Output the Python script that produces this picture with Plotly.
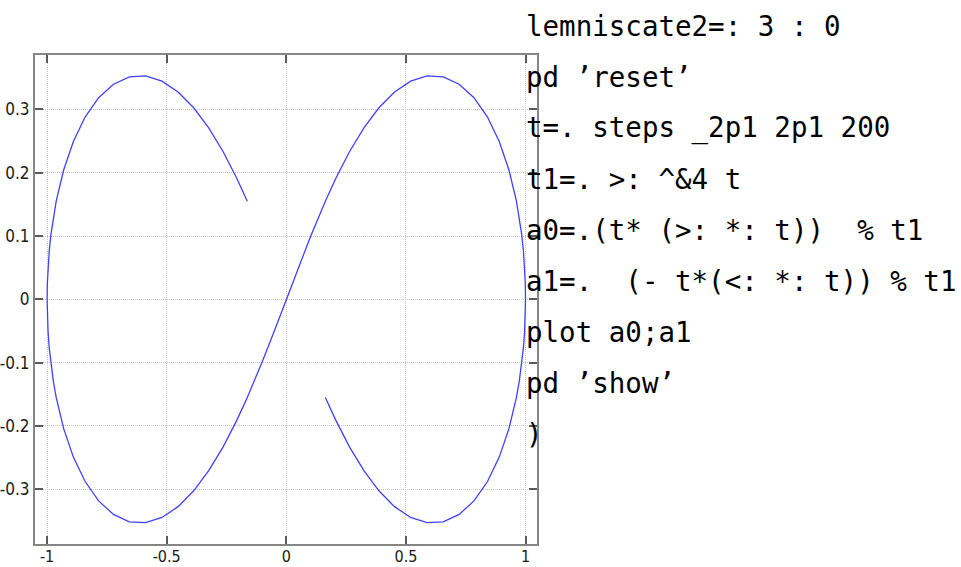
import plotly.graph_objects as go

# Lemniscate traced by the J session shown on the right:
# a0 = t(1+t^2)/(1+t^4), a1 = t(1-t^2)/(1+t^4), t from -2pi to 2pi
a0 = [
    -0.1631, -0.2077, -0.2646, -0.3244, -0.3871, -0.4524, -0.5198, -0.5882, -0.6563, -0.7224,
    -0.7846, -0.8411, -0.8902, -0.9308, -0.9620, -0.9740, -0.9836, -0.9910, -0.9961, -0.9990, -1.0,
    -0.9990, -0.9961, -0.9910, -0.9836, -0.9740, -0.9620, -0.9308, -0.8902, -0.8411, -0.7846,
    -0.7224, -0.6563, -0.5882, -0.5198, -0.4524, -0.3871, -0.3244, -0.2646, -0.2077, -0.1631,
    -0.1010, -0.0501, 0.0,
    0.0501, 0.1010, 0.1631, 0.2077, 0.2646, 0.3244, 0.3871, 0.4524, 0.5198, 0.5882, 0.6563,
    0.7224, 0.7846, 0.8411, 0.8902, 0.9308, 0.9620, 0.9740, 0.9836, 0.9910, 0.9961, 0.9990, 1.0,
    0.9990, 0.9961, 0.9910, 0.9836, 0.9740, 0.9620, 0.9308, 0.8902, 0.8411, 0.7846, 0.7224,
    0.6563, 0.5882, 0.5198, 0.4524, 0.3871, 0.3244, 0.2646, 0.2077, 0.1631,
]
a1 = [
    0.1550, 0.1917, 0.2335, 0.2708, 0.3026, 0.3276, 0.3447, 0.3529, 0.3515, 0.3399,
    0.3185, 0.2879, 0.2493, 0.2043, 0.1550, 0.1293, 0.1033, 0.0771, 0.0511, 0.0253, 0.0,
    -0.0253, -0.0511, -0.0771, -0.1033, -0.1293, -0.1550, -0.2043, -0.2493, -0.2879, -0.3185,
    -0.3399, -0.3515, -0.3529, -0.3447, -0.3276, -0.3026, -0.2708, -0.2335, -0.1917, -0.1550,
    -0.0990, -0.0499, 0.0,
    0.0499, 0.0990, 0.1550, 0.1917, 0.2335, 0.2708, 0.3026, 0.3276, 0.3447, 0.3529, 0.3515,
    0.3399, 0.3185, 0.2879, 0.2493, 0.2043, 0.1550, 0.1293, 0.1033, 0.0771, 0.0511, 0.0253, 0.0,
    -0.0253, -0.0511, -0.0771, -0.1033, -0.1293, -0.1550, -0.2043, -0.2493, -0.2879, -0.3185,
    -0.3399, -0.3515, -0.3529, -0.3447, -0.3276, -0.3026, -0.2708, -0.2335, -0.1917, -0.1550,
]

x_ticks = [-1, -0.5, 0, 0.5, 1]
x_tick_labels = ["-1", "-0.5", "0", "0.5", "1"]
y_ticks = [-0.3, -0.2, -0.1, 0, 0.1, 0.2, 0.3]
y_tick_labels = ["-0.3", "-0.2", "-0.1", "0", "0.1", "0.2", "0.3"]

code_lines = [
    "lemniscate2=: 3 : 0",
    "pd \u2019reset\u2019",
    "t=. steps _2p1 2p1 200",
    "t1=. >: ^&4 t",
    "a0=.(t* (>: *: t))  % t1",
    "a1=.  (- t*(<: *: t)) % t1",
    "plot a0;a1",
    "pd \u2019show\u2019",
    ")",
]

W, H = 961, 567
L, R, T, B = 35, 537, 55, 544  # plot box in pixels


def px_to_paper(px, py):
    return (px - L) / (R - L), (B - py) / (B - T)


fig = go.Figure()
fig.add_trace(go.Scatter(
    x=a0, y=a1, mode="lines",
    line=dict(color="rgb(64,64,255)", width=1.3),
    showlegend=False, hoverinfo="skip",
))

label_font = "Liberation Sans Narrow, DejaVu Sans Condensed, Liberation Sans"
axis_common = dict(
    showline=True, linecolor="#858585", linewidth=2, mirror="ticks",
    ticks="inside", ticklen=8, tickwidth=2, tickcolor="#5a5a5a",
    showgrid=True, gridcolor="#c4c4c4", gridwidth=1, griddash="1px,1px",
    zeroline=False, automargin=False,
)
fig.update_xaxes(range=[-1.0506, 1.048], tickvals=x_ticks, ticktext=x_tick_labels,
                 tickfont=dict(family=label_font, size=16, color="#1a1a1a"),
                 ticklabelstandoff=-3, **axis_common)
fig.update_yaxes(range=[-0.3866, 0.386], tickvals=y_ticks, ticktext=y_tick_labels,
                 tickfont=dict(family=label_font, size=17, color="#1a1a1a"),
                 ticklabelstandoff=0, **axis_common)

annotations = []
for i, line in enumerate(code_lines):
    cx, cy = px_to_paper(524, 25.5 + 51.1 * i)
    annotations.append(dict(
        text=line.replace(" ", "\u00a0"), xref="paper", yref="paper",
        x=cx, y=cy, xanchor="left", yanchor="middle", showarrow=False,
        font=dict(family="DejaVu Sans Mono", size=27.5, color="#000000"),
    ))

fig.update_layout(
    width=W, height=H,
    margin=dict(l=L, r=W - R, t=T, b=H - B, pad=0),
    paper_bgcolor="white", plot_bgcolor="white",
    annotations=annotations,
)

fig.write_html("out.html")
